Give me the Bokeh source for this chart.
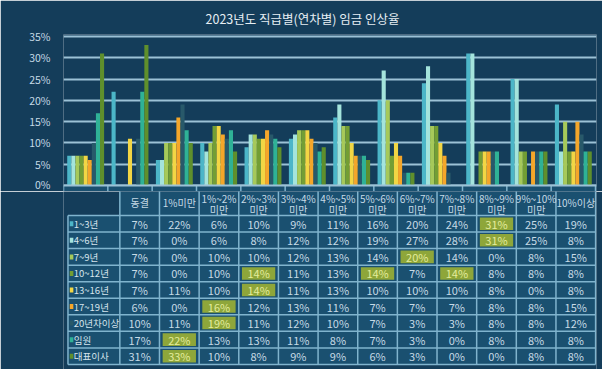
import numpy as np
from bokeh.plotting import figure
from bokeh.layouts import column
from bokeh.models import Range1d, BoxAnnotation, Span, FixedTicker
from bokeh.core.properties import value
from bokeh.embed import file_html
from bokeh.resources import INLINE

# ---------------- data ----------------
title_text = "2023년도 직급별(연차별) 임금 인상율"
categories = ["동결", "1%미만", "1%~2% 미만", "2%~3% 미만", "3%~4% 미만", "4%~5% 미만",
              "5%~6% 미만", "6%~7% 미만", "7%~8% 미만", "8%~9% 미만", "9%~10% 미만", "10%이상"]
series_names = ["1~3년", "4~6년", "7~9년", "10~12년", "13~16년", "17~19년", "20년차이상", "임원", "대표이사"]
v_1_3 = [7, 22, 6, 10, 9, 11, 16, 20, 24, 31, 25, 19]
v_4_6 = [7, 0, 6, 8, 12, 12, 19, 27, 28, 31, 25, 8]
v_7_9 = [7, 0, 10, 10, 12, 13, 14, 20, 14, 0, 8, 15]
v_10_12 = [7, 0, 10, 14, 11, 13, 14, 7, 14, 8, 8, 8]
v_13_16 = [7, 11, 10, 14, 11, 13, 10, 10, 10, 8, 0, 8]
v_17_19 = [6, 0, 16, 12, 13, 11, 7, 7, 7, 8, 8, 15]
v_20plus = [10, 11, 19, 11, 12, 10, 7, 3, 3, 8, 8, 12]
v_exec = [17, 22, 13, 13, 11, 8, 7, 3, 0, 8, 8, 8]
v_ceo = [31, 33, 10, 8, 9, 9, 6, 3, 0, 0, 8, 8]
series_values = [v_1_3, v_4_6, v_7_9, v_10_12, v_13_16, v_17_19, v_20plus, v_exec, v_ceo]
y_ticks = [0, 5, 10, 15, 20, 25, 30, 35]
y_tick_labels = ["0%", "5%", "10%", "15%", "20%", "25%", "30%", "35%"]

# ---------------- style ----------------
colors = ["#4cb6c8", "#a4e4dc", "#a6c95a", "#739e34", "#f2d644", "#f4a62a",
          "#28596a", "#2fb296", "#5f8f2c"]
FONT = "Noto Sans CJK KR"
BG = "#143d5a"
TABLE_BG = "#1a5070"
GRID = "#9cc2d6"
TLINE = "#80b4ce"
TXT = "#c6dae6"
HL = "#8ea63a"
HL_TXT = "#e4ec9c"

W = 602
H1 = 191
H2 = 369 - H1
LEFT = 63
RIGHT = 6
TOP = 34
col_px = 532 / 12.0
X_END = 11.5 + 1.0 / col_px
k = 149 / 35.0                      # px per percent
y_lo = -(H1 - 185) / k
y_hi = 35 + 2 / k
row_px = 16.55
t_top = (215 - H1) / row_px
t_bot = -(369 - 215) / row_px
XL = -0.5 - LEFT / col_px
x_border = -0.5 - 58 / col_px

n_cat = len(categories)
n_ser = len(series_names)
bw = 4.1 / col_px

# ---------------- chart ----------------
p1 = figure(width=W, height=H1, x_range=Range1d(-0.5, X_END), y_range=Range1d(y_lo, y_hi),
            output_backend="svg", toolbar_location=None, x_axis_location=None,
            min_border_left=LEFT, min_border_right=RIGHT, min_border_top=TOP, min_border_bottom=0,
            title=title_text)
p1.background_fill_color = BG
p1.border_fill_color = BG
p1.outline_line_color = None
p1.xgrid.visible = False
p1.ygrid.ticker = FixedTicker(ticks=y_ticks)
p1.ygrid.grid_line_color = GRID
p1.ygrid.grid_line_width = 2
p1.yaxis.ticker = FixedTicker(ticks=y_ticks)
p1.yaxis.major_label_overrides = dict(zip(y_ticks, y_tick_labels))
p1.yaxis.axis_line_color = None
p1.yaxis.major_tick_line_color = None
p1.yaxis.minor_tick_line_color = None
p1.yaxis.major_label_standoff = 7
p1.yaxis.major_label_text_font = FONT
p1.yaxis.major_label_text_font_size = "10.5px"
p1.yaxis.major_label_text_color = TXT
p1.title.align = "left"
p1.title.offset = 142
p1.title.text_font = FONT
p1.title.text_font_size = "12.5px"
p1.title.text_font_style = "normal"
p1.title.text_color = "#e6eef3"
p1.title.standoff = 13

# table header strip below zero
p1.add_layout(BoxAnnotation(top=0, fill_color=TABLE_BG, fill_alpha=1, line_alpha=0, level="underlay"))

idx = np.arange(n_cat)
for j, (name, vals, c) in enumerate(zip(series_names, series_values, colors)):
    p1.vbar(x=idx + (j - (n_ser - 1) / 2) * bw, top=vals, width=bw, bottom=0,
            fill_color=c, line_color=None)

edges = np.arange(n_cat + 1) - 0.5
p1.segment(x0=edges, y0=np.zeros(len(edges)), x1=edges, y1=np.full(len(edges), y_lo),
           line_color=TLINE, line_width=1.5)
p1.add_layout(Span(location=0, dimension="width", line_color=GRID, line_width=2))

# ---------------- table ----------------
p2 = figure(width=W, height=H2, x_range=Range1d(XL, X_END), y_range=Range1d(t_bot, t_top),
            output_backend="svg", toolbar_location=None, x_axis_location=None,
            y_axis_location=None, min_border_left=0, min_border_right=RIGHT,
            min_border_top=0, min_border_bottom=0)
p2.background_fill_color = BG
p2.border_fill_color = BG
p2.outline_line_color = None
p2.grid.visible = False

n_rows = n_ser
# cell backgrounds
p2.quad(left=[-0.5, x_border], right=[11.5, 11.5], bottom=[0, -n_rows], top=[t_top + 1, 0],
        fill_color=TABLE_BG, line_color=None)

# highlights (row maxima)
hx, hy, ht, rx, ry, rt = [], [], [], [], [], []
for r, vals in enumerate(series_values):
    m = max(vals)
    for i, v in enumerate(vals):
        txt = f"{v}%"
        if v == m:
            hx.append(i); hy.append(-(r + 0.5)); ht.append(txt)
        else:
            rx.append(i); ry.append(-(r + 0.5)); rt.append(txt)
p2.rect(x=hx, y=hy, width=0.84, height=0.76, fill_color=HL, line_color=None)

# grid lines
hl_y = -np.arange(n_rows + 1)
p2.segment(x0=np.full(len(hl_y), x_border), y0=hl_y, x1=np.full(len(hl_y), 11.5), y1=hl_y,
           line_color=TLINE, line_width=1.5)
p2.segment(x0=edges, y0=np.full(len(edges), -n_rows), x1=edges, y1=np.full(len(edges), t_top + 1),
           line_color=TLINE, line_width=1.5)
p2.segment(x0=[x_border], y0=[-n_rows], x1=[x_border], y1=[0], line_color=TLINE, line_width=1.5)

# header text
h1x, h1y, h1t = [], [], []
for i, cat in enumerate(categories):
    parts = cat.split(" ")
    if len(parts) == 2:
        h1x += [i, i]; h1y += [(215 - 197.5) / row_px, (215 - 209) / row_px]; h1t += parts
    else:
        h1x.append(i); h1y.append((215 - 202) / row_px); h1t.append(cat)
p2.text(x=h1x, y=h1y, text=h1t, text_align="center", text_baseline="middle",
        text_font=value(FONT), text_font_size="10px", text_color=TXT)

# cell values
p2.text(x=rx, y=ry, text=rt, text_align="center", text_baseline="middle",
        text_font=value(FONT), text_font_size="11px", text_color=TXT)
p2.text(x=hx, y=hy, text=ht, text_align="center", text_baseline="middle",
        text_font=value(FONT), text_font_size="11px", text_color=HL_TXT)

# row labels with colour keys
sq_x = -0.5 - 54 / col_px
lab_x = -0.5 - 51.5 / col_px
row_y = [-(r + 0.5) for r in range(n_rows)]
p2.rect(x=[sq_x] * n_rows, y=row_y, width=4 / col_px, height=5 / row_px,
        fill_color=colors, line_color=None)
p2.text(x=[lab_x] * n_rows, y=row_y, text=series_names, text_align="left", text_baseline="middle",
        text_font=value(FONT), text_font_size="9.5px", text_color="#d6e4ec")

layout = column(p1, p2, spacing=0)
open("out.html", "w").write(file_html(layout, INLINE))
